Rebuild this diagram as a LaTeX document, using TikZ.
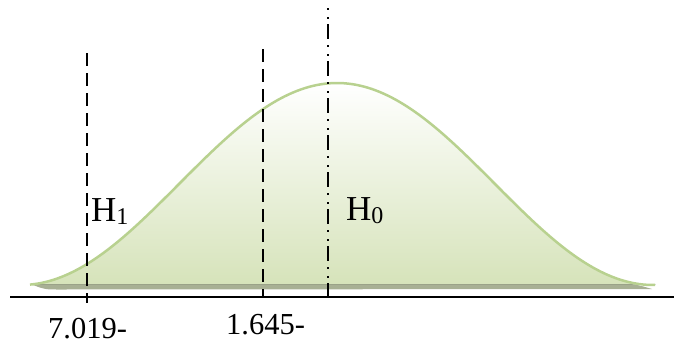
\documentclass[tikz,border=0pt]{standalone}
\usepackage{fontspec}
\setmainfont{Liberation Serif}
\definecolor{curvestroke}{HTML}{B8D18F}
\definecolor{curvefill}{HTML}{D6E3BA}
\definecolor{shadowc}{HTML}{A8B094}
\tikzset{
  guide/.style={line width=1.8pt, dash pattern=on 13pt off 7pt},
  nullguide/.style={line width=1.8pt, dash pattern=on 2pt off 7pt on 2pt off 5pt on 15pt off 6pt},
  lab/.style={inner sep=0pt, anchor=base west, font=\fontsize{30.5}{30.5}\selectfont},
  hlab/.style={inner sep=0pt, anchor=base west, font=\fontsize{35}{35}\selectfont},
}
\newcommand{\hsub}[1]{\raisebox{-3pt}{\fontsize{24}{24}\selectfont #1}}
\begin{document}
\begin{tikzpicture}[x=1pt,y=-1pt]
\useasboundingbox (0,0) rectangle (674,343);
% shadow band
\fill[shadowc] (33,285) .. controls (45,283) .. (70,283) -- (615,283) .. controls (635,284) .. (652,289) -- (60,289.5) .. controls (45,289.5) .. (33,285) -- cycle;
% bell fill
\fill[top color=white, bottom color=curvefill]
  plot[domain=30:655, samples=160, smooth] (\x, {285 - 101*(1+cos((\x-337)/316*180))})
  -- (655,284) -- (30,284) -- cycle;
\draw[curvestroke, line width=2.5pt, line join=round]
  plot[domain=30:655, samples=160, smooth] (\x, {285 - 101*(1+cos((\x-337)/316*180))});
% axis
\coordinate (axL) at (10,297);
\coordinate (axR) at (674,297);
\draw[line width=2pt] (axL) -- (axR);
% guide lines
\coordinate (g1t) at (87,53);
\coordinate (g1b) at (87,303);
\coordinate (g2t) at (263,49);
\coordinate (g2b) at (263,297);
\coordinate (g0t) at (328,8);
\coordinate (g0b) at (328,297);
\draw[guide] (g1t) -- (g1b);
\draw[guide] (g2t) -- (g2b);
\draw[nullguide] (g0t) -- (g0b);
% labels
\node[hlab] (h1) at (91,221) {H\hsub{1}};
\node[hlab] (h0) at (346,220) {H\hsub{0}};
\node[lab] (v1) at (48,338) {7.019-};
\node[lab] (v2) at (226,334) {1.645-};
\end{tikzpicture}
\end{document}
